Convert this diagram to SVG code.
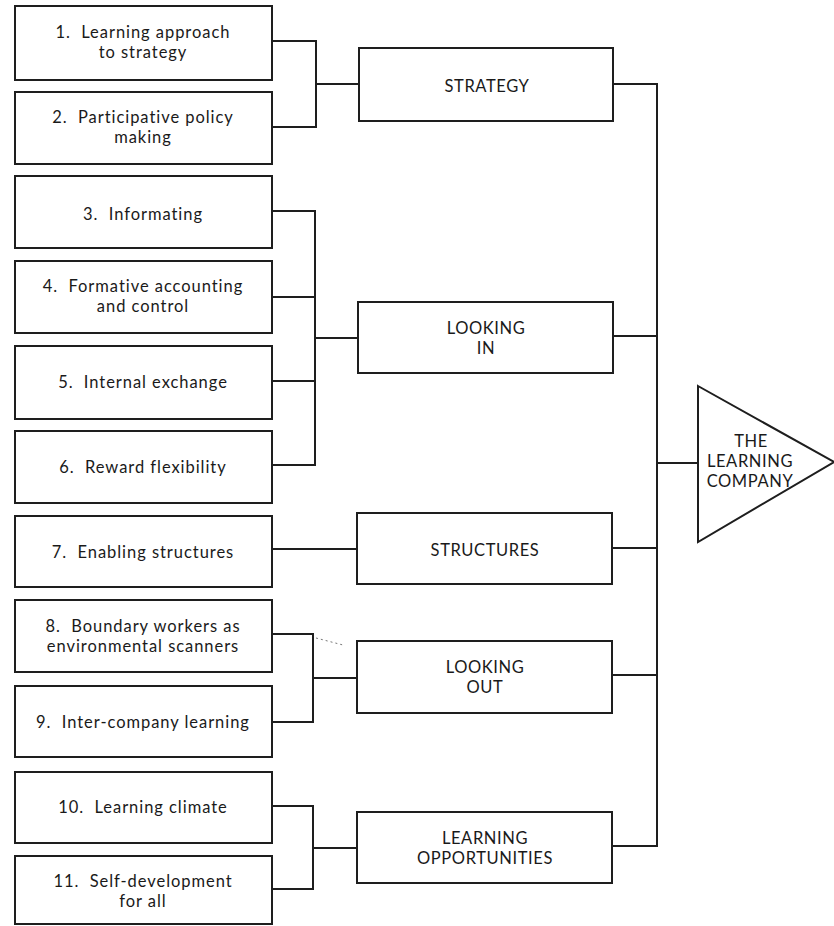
<svg xmlns="http://www.w3.org/2000/svg" width="834" height="926" viewBox="0 0 834 926">
<style>
.box{fill:#fff;stroke:#1e1e1e;stroke-width:2}
.ln{fill:none;stroke:#1e1e1e;stroke-width:2;stroke-linecap:square}
.t{font-family:Lato,"Open Sans",sans-serif;font-size:16.5px;letter-spacing:0.95px;fill:#1a1a1a;text-anchor:middle;white-space:pre}
.c{font-family:Lato,"Open Sans",sans-serif;font-size:16.5px;letter-spacing:0.6px;fill:#1a1a1a;text-anchor:middle}
</style>
<rect width="834" height="926" fill="#fff"/>
<g id="connectors">
<path class="ln" d="M272,41H316V127H272M316,84H359"/>
<path class="ln" d="M272,211H315V465H272M272,297H315M272,381H315M315,338H358"/>
<path class="ln" d="M272,549H357"/>
<path class="ln" d="M272,634H313V722H272M313,678H357"/>
<path class="ln" d="M272,806H313V889H272M313,848H357"/>
<path class="ln" d="M613,84H657V846H612M613,336H657M612,548H657M612,675H657M657,463H698"/>
<path d="M316,638L343,645" fill="none" stroke="#777" stroke-width="1" stroke-dasharray="2,3"/>
</g>
<g id="n1"><rect class="box" x="15" y="6" width="257" height="74"/><text class="t" x="143" y="38">1.  Learning approach</text><text class="t" x="143" y="58">to strategy</text></g>
<g id="n2"><rect class="box" x="15" y="92" width="257" height="72"/><text class="t" x="143" y="123">2.  Participative policy</text><text class="t" x="143" y="143">making</text></g>
<g id="n3"><rect class="box" x="15" y="176" width="257" height="72"/><text class="t" x="143" y="220">3.  Informating</text></g>
<g id="n4"><rect class="box" x="15" y="261" width="257" height="72"/><text class="t" x="143" y="292">4.  Formative accounting</text><text class="t" x="143" y="312">and control</text></g>
<g id="n5"><rect class="box" x="15" y="346" width="257" height="73"/><text class="t" x="143" y="388">5.  Internal exchange</text></g>
<g id="n6"><rect class="box" x="15" y="431" width="257" height="72"/><text class="t" x="143" y="473">6.  Reward flexibility</text></g>
<g id="n7"><rect class="box" x="15" y="516" width="257" height="71"/><text class="t" x="143" y="558">7.  Enabling structures</text></g>
<g id="n8"><rect class="box" x="15" y="600" width="257" height="72"/><text class="t" x="143" y="632">8.  Boundary workers as</text><text class="t" x="143" y="652">environmental scanners</text></g>
<g id="n9"><rect class="box" x="15" y="686" width="257" height="71"/><text class="t" x="143" y="728">9.  Inter-company learning</text></g>
<g id="n10"><rect class="box" x="15" y="772" width="257" height="71"/><text class="t" x="143" y="813">10.  Learning climate</text></g>
<g id="n11"><rect class="box" x="15" y="856" width="257" height="68"/><text class="t" x="143" y="887">11.  Self-development</text><text class="t" x="143" y="907">for all</text></g>
<g id="strategy"><rect class="box" x="359" y="48" width="254" height="73"/><text class="c" x="487" y="92">STRATEGY</text></g>
<g id="looking-in"><rect class="box" x="358" y="302" width="255" height="71"/><text class="c" x="486" y="334">LOOKING</text><text class="c" x="486" y="354">IN</text></g>
<g id="structures"><rect class="box" x="357" y="513" width="255" height="71"/><text class="c" x="485" y="556">STRUCTURES</text></g>
<g id="looking-out"><rect class="box" x="357" y="641" width="255" height="72"/><text class="c" x="485" y="673">LOOKING</text><text class="c" x="485" y="693">OUT</text></g>
<g id="learning-opportunities"><rect class="box" x="357" y="812" width="255" height="71"/><text class="c" x="485" y="844">LEARNING</text><text class="c" x="485" y="864">OPPORTUNITIES</text></g>
<g id="learning-company"><polygon class="box" points="698,386 834,462 698,542"/><text class="c" x="751" y="447">THE</text><text class="c" x="750" y="467">LEARNING</text><text class="c" x="750" y="487">COMPANY</text></g>
</svg>
